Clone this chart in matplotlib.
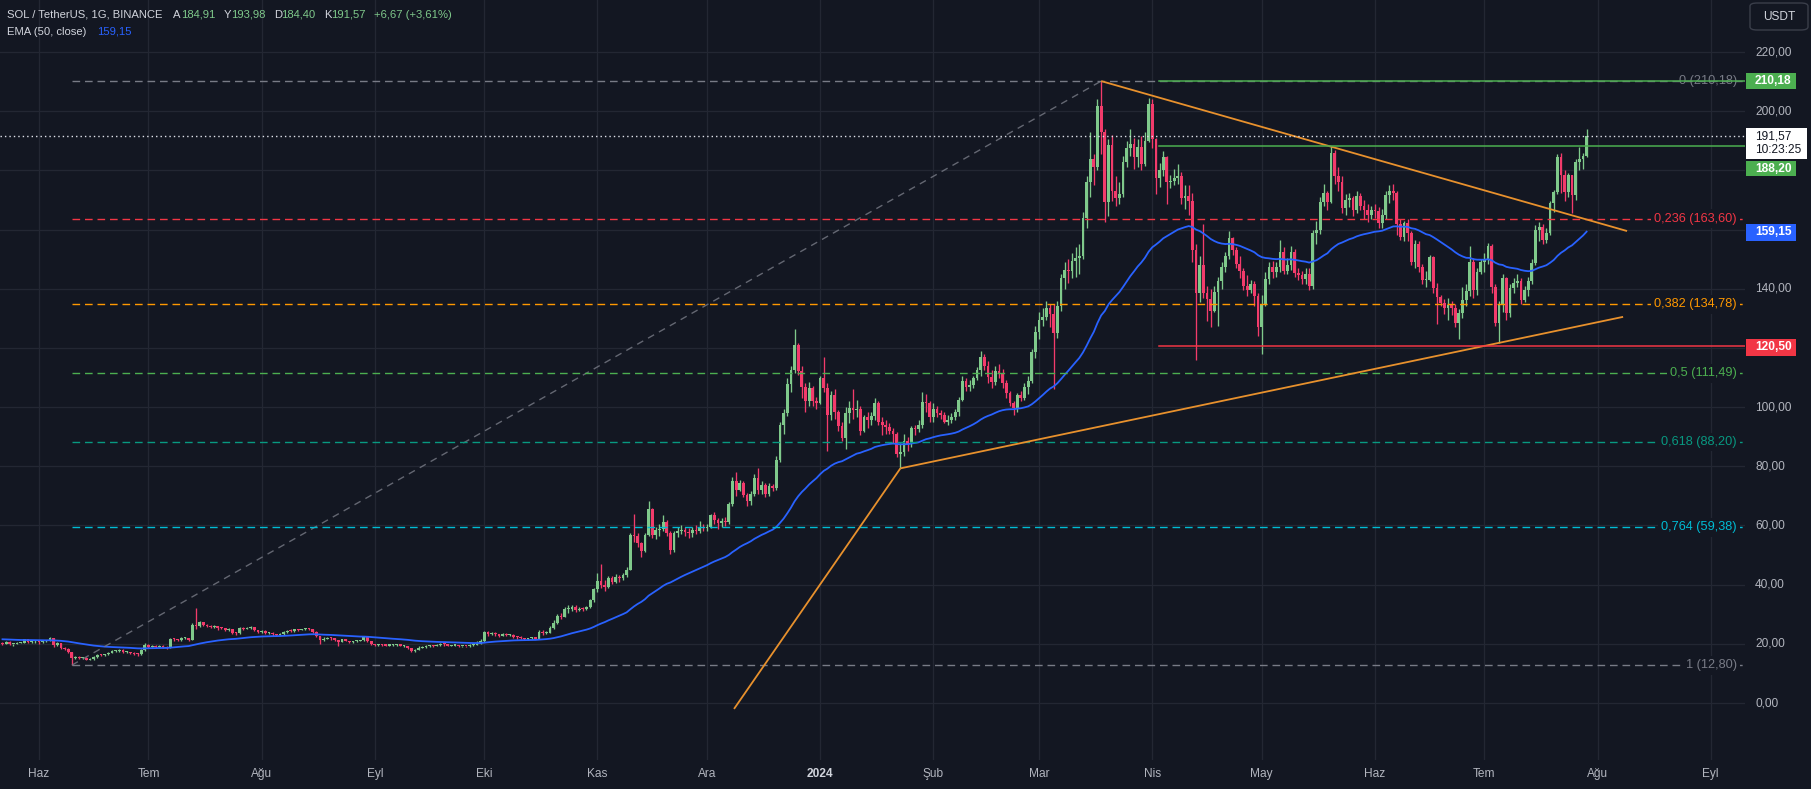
import numpy as np
import pandas as pd
import matplotlib
matplotlib.use('Agg')
import matplotlib.pyplot as plt
import matplotlib.dates as mdates
from matplotlib.patches import Rectangle, FancyBboxPatch

plt.rcParams['font.family'] = ['Liberation Sans', 'DejaVu Sans']

W, H = 1811, 789
BG = '#131722'
GRID = '#232733'
TXT = '#b2b5be'
UP = '#7fc98b'
DOWN = '#f23b6b'

# SOL/USDT daily, 2023-05-22 .. 2024-07-29 (open = previous close)
start_date = '2023-05-22'
first_open = 20.3
ema_seed = 21.6

close = [
    20.0, 20.7, 19.9, 19.9, 20.3, 20.4, 21.5, 20.6, 20.8, 20.8,  # May 23
    20.5, 20.8, 21.0, 22.0, 19.6, 20.2, 18.5, 18.3, 17.3, 15.2, 15.6, 15.1, 15.3, 14.6, 15.0,
    15.5, 16.3, 16.1, 16.4, 16.9, 17.6, 17.6, 17.9, 17.2, 17.4, 16.9, 16.5, 16.4, 17.9, 19.6,  # Jun
    19.0, 19.3, 19.0, 19.4, 18.9, 18.6, 21.6, 21.5, 21.3, 21.9, 22.0, 21.3, 26.5, 25.9, 27.3, 26.5,
    26.0, 25.6, 25.9, 25.3, 25.2, 24.6, 24.9, 23.6, 23.5, 25.3, 25.1, 25.2, 25.6, 24.6, 24.1,  # Jul
    24.4, 23.6, 23.7, 23.2, 23.0, 23.3, 24.1, 24.5, 24.3, 24.9, 24.7, 24.9, 25.3, 25.0, 24.0, 22.6,
    21.4, 21.7, 22.1, 21.9, 21.2, 20.6, 21.6, 21.0, 20.5, 20.9, 21.0, 21.2, 22.2, 21.0, 19.8,  # Aug
    19.5, 19.7, 19.6, 19.4, 19.6, 19.7, 19.9, 19.3, 19.3, 18.5, 17.5, 18.0, 18.6, 18.9, 19.3,
    19.3, 19.2, 19.5, 19.9, 19.8, 19.3, 19.4, 19.4, 19.1, 19.2, 19.1, 19.6, 19.7, 20.0, 20.8,  # Sep
    24.0, 23.4, 23.7, 23.2, 22.8, 23.3, 23.0, 23.1, 22.4, 22.3, 21.9, 21.6, 21.9, 22.2, 21.8, 24.0,
    23.5, 23.8, 25.3, 27.0, 29.4, 29.1, 31.8, 31.9, 32.3, 31.4, 31.9, 31.7, 32.3, 34.8, 38.5,  # Oct
    41.2, 39.9, 39.2, 42.2, 41.0, 42.6, 42.3, 43.1, 45.1, 56.8, 56.3, 54.0, 51.4, 56.8, 65.5,
    56.8, 58.5, 58.8, 61.2, 57.3, 51.7, 57.3, 58.0, 58.5, 57.9, 57.3, 58.3, 58.1, 59.6, 59.1,  # Nov
    59.6, 63.5, 62.0, 60.8, 61.5, 61.2, 67.4, 75.0, 72.0, 74.5, 70.4, 68.2, 70.6, 76.0, 72.0, 73.7,
    70.6, 73.5, 72.8, 82.1, 94.0, 97.9, 107.8, 112.5, 121.0, 112.3, 106.7, 101.9, 106.3, 101.9, 101.5,  # Dec
    109.7, 106.5, 97.5, 104.0, 98.5, 93.5, 89.5, 97.9, 99.6, 99.0, 99.4, 92.0, 96.5, 95.5, 97.0, 101.5,
    95.1, 94.0, 93.2, 92.0, 91.0, 84.0, 84.7, 88.5, 87.5, 92.9, 92.5, 94.0, 101.8, 101.4, 96.5,  # Jan 24
    99.5, 98.0, 97.3, 95.1, 95.8, 96.5, 98.2, 102.4, 108.9, 106.7, 107.5, 109.7, 112.6, 117.1, 113.8,
    110.3, 108.6, 112.3, 111.5, 108.0, 104.6, 101.5, 99.6, 104.1, 103.0, 106.7, 108.9, 118.7, 125.5,  # Feb
    129.5, 130.5, 133.5, 131.5, 125.0, 134.0, 143.5, 146.5, 146.0, 149.5, 150.5, 151.0, 163.8, 176.2, 183.9, 181.2,
    201.7, 193.0, 169.4, 188.5, 173.0, 170.5, 172.0, 183.0, 187.5, 189.0, 184.6, 188.0, 182.0, 190.0, 202.4,  # Mar
    190.5, 177.5, 180.0, 184.5, 176.0, 176.5, 177.5, 178.0, 170.5, 171.5, 169.5, 153.0, 138.5, 148.0, 138.5,
    136.5, 132.5, 139.0, 142.5, 147.5, 151.0, 157.0, 153.0, 148.5, 146.0, 141.0, 139.5, 141.5, 137.5, 127.0,  # Apr
    135.0, 143.4, 147.3, 145.5, 147.5, 152.5, 146.0, 148.0, 152.5, 145.3, 144.5, 143.4, 145.0, 141.0, 158.7, 160.0,
    169.4, 172.2, 169.4, 186.0, 178.0, 176.2, 167.2, 170.0, 170.5, 166.5, 171.5, 168.0, 166.5, 165.0, 166.5,  # May
    166.3, 162.3, 165.0, 171.6, 173.0, 172.3, 162.0, 157.6, 162.1, 158.7, 149.1, 155.0, 147.5, 142.9, 143.0,
    150.8, 140.1, 137.3, 135.3, 133.4, 134.5, 133.4, 128.4, 131.7, 136.3, 139.1, 149.1, 139.6, 145.8, 149.1,  # Jun
    150.0, 154.3, 140.7, 128.4, 134.6, 143.5, 131.8, 140.3, 141.9, 142.5, 136.3, 139.7, 142.5, 148.7, 159.9,
    161.0, 156.5, 158.7, 168.9, 172.8, 184.6, 178.4, 172.8, 178.4, 171.7, 182.9, 183.8, 184.91, 191.57,  # Jul
]

high = [
    20.5, 21.0, 20.8, 20.1, 20.6, 20.6, 21.7, 21.8, 21.0, 21.2,
    21.0, 21.1, 21.2, 22.3, 22.1, 20.6, 20.4, 18.8, 18.6, 17.4, 15.9, 15.9, 15.6, 15.5, 15.3,
    15.8, 16.6, 16.6, 16.7, 17.1, 17.8, 18.0, 18.2, 18.1, 17.6, 17.4, 17.1, 16.9, 18.1, 20.2,
    19.9, 19.6, 19.7, 19.7, 19.5, 19.1, 21.9, 21.9, 21.7, 22.2, 22.4, 21.9, 27.2, 32.1, 27.8, 27.5,
    26.7, 26.4, 26.3, 26.0, 25.6, 25.4, 25.2, 25.0, 24.0, 25.6, 25.7, 25.6, 26.0, 25.7, 24.8,
    24.7, 24.6, 24.1, 23.9, 23.4, 23.5, 24.3, 24.8, 24.9, 25.1, 25.0, 25.1, 25.5, 25.5, 25.1, 24.2,
    22.7, 22.2, 22.4, 22.3, 22.0, 21.3, 21.8, 21.8, 21.1, 21.0, 21.2, 21.4, 22.8, 22.3, 21.1,
    20.1, 19.9, 19.9, 19.8, 19.8, 20.0, 20.1, 20.0, 19.5, 19.4, 18.6, 18.4, 19.1, 19.2, 19.7,
    19.5, 19.5, 19.9, 20.2, 20.2, 19.9, 19.6, 19.6, 19.5, 19.4, 19.3, 19.8, 20.2, 20.8, 21.5,
    24.2, 24.3, 24.0, 23.9, 23.4, 23.6, 23.5, 23.4, 23.2, 22.7, 22.5, 22.0, 22.1, 22.4, 22.4, 24.6,
    24.6, 24.4, 26.0, 28.0, 30.0, 30.3, 32.3, 33.0, 33.2, 33.0, 32.6, 32.4, 32.8, 35.0, 39.0,
    44.0, 47.0, 41.5, 42.8, 42.8, 43.5, 43.3, 44.0, 45.8, 57.5, 63.9, 57.5, 54.5, 57.5, 68.3,
    66.0, 59.5, 60.5, 63.5, 62.0, 58.0, 58.2, 59.5, 60.0, 59.5, 59.0, 59.5, 60.2, 61.5, 60.5,
    60.5, 64.0, 64.5, 62.5, 62.5, 62.8, 68.0, 76.5, 78.0, 75.5, 75.0, 71.0, 71.5, 77.5, 79.5, 75.0,
    74.5, 74.5, 74.0, 83.5, 95.0, 99.5, 110.0, 114.0, 126.3, 121.5, 114.0, 108.0, 108.5, 107.0, 103.5,
    110.5, 117.0, 108.0, 105.5, 106.0, 99.0, 95.0, 100.0, 102.0, 106.0, 102.5, 100.5, 97.5, 98.5, 98.5, 103.0,
    102.0, 96.5, 95.5, 94.5, 93.0, 91.5, 88.0, 91.0, 90.0, 93.5, 94.0, 95.5, 105.0, 104.5, 102.0,
    101.5, 100.5, 99.0, 98.5, 97.5, 98.0, 99.5, 103.5, 110.5, 110.0, 109.0, 110.5, 113.5, 119.0, 118.0,
    115.5, 112.5, 114.0, 114.5, 113.0, 109.0, 105.5, 102.0, 104.8, 105.5, 108.0, 110.5, 119.5, 127.5,
    132.0, 133.5, 136.0, 135.0, 135.0, 136.0, 145.0, 149.0, 150.0, 152.0, 154.0, 155.0, 166.0, 178.0, 193.0, 185.5,
    204.0, 210.18, 194.0, 190.5, 192.0, 178.0, 176.0, 185.0, 190.0, 194.0, 191.0, 190.5, 191.5, 193.0, 204.5,
    204.0, 191.0, 182.5, 186.5, 185.0, 178.5, 180.5, 182.0, 179.5, 175.0, 175.0, 172.5, 155.0, 151.0, 162.0,
    141.0, 140.0, 141.0, 144.0, 149.0, 152.5, 159.5, 157.5, 154.0, 151.0, 147.0, 144.5, 143.0, 142.5, 138.5,
    138.0, 145.5, 149.0, 149.5, 149.0, 156.5, 154.0, 150.5, 154.5, 153.5, 147.0, 146.0, 147.0, 147.0, 160.0, 163.0,
    171.0, 175.5, 173.0, 188.2, 187.0, 181.0, 178.0, 172.0, 172.5, 171.5, 173.0, 172.5, 170.0, 168.5, 168.0,
    168.5, 167.5, 167.0, 173.0, 175.0, 175.5, 173.0, 163.5, 163.0, 163.5, 159.5, 156.5, 156.0, 148.5, 146.0,
    151.5, 151.0, 142.0, 138.0, 136.5, 137.0, 136.0, 135.0, 133.0, 140.7, 141.5, 154.5, 150.5, 147.0, 150.0,
    152.0, 155.5, 155.0, 141.5, 136.0, 145.0, 144.0, 141.5, 143.5, 145.0, 143.5, 141.0, 144.0, 150.0, 161.5,
    162.5, 162.0, 160.5, 169.5, 173.5, 185.5, 186.0, 180.0, 179.0, 178.5, 184.0, 188.0, 186.0, 193.98,
]

low = [
    19.5, 19.9, 19.5, 19.3, 19.8, 20.2, 20.3, 20.3, 20.4, 20.3,
    20.1, 20.4, 20.6, 20.8, 19.0, 19.2, 18.2, 17.9, 16.8, 12.8, 14.9, 14.8, 14.9, 14.4, 14.4,
    14.7, 15.3, 15.8, 16.0, 16.2, 16.8, 17.2, 17.3, 17.0, 16.8, 16.6, 16.3, 16.0, 16.2, 17.5,
    18.6, 18.8, 18.7, 18.9, 18.5, 18.2, 18.5, 21.0, 20.9, 21.1, 21.6, 21.0, 21.2, 25.0, 25.8, 26.1,
    25.6, 25.2, 25.3, 24.8, 24.9, 24.3, 24.4, 23.4, 23.1, 23.4, 24.8, 24.9, 25.0, 24.4, 23.8,
    23.8, 23.2, 23.2, 22.8, 22.7, 22.9, 23.1, 23.8, 23.9, 24.1, 24.4, 24.6, 24.7, 24.7, 23.8, 22.3,
    19.8, 21.0, 21.5, 21.4, 20.9, 19.2, 20.5, 20.8, 20.3, 20.4, 20.7, 20.8, 20.9, 20.7, 19.6,
    19.3, 19.3, 19.3, 19.2, 19.2, 19.4, 19.4, 19.1, 19.0, 18.2, 17.3, 17.4, 17.8, 18.5, 18.7,
    19.0, 19.0, 19.1, 19.3, 19.3, 19.1, 19.1, 19.2, 18.9, 18.8, 18.9, 19.0, 19.3, 19.5, 19.8,
    20.7, 22.7, 23.0, 22.7, 22.3, 22.6, 22.6, 22.5, 22.0, 21.8, 21.5, 21.2, 21.4, 21.7, 21.6, 21.7,
    23.1, 23.3, 23.7, 25.0, 26.8, 28.3, 29.0, 30.5, 31.0, 30.7, 31.2, 31.2, 31.4, 32.1, 34.3,
    37.5, 39.0, 38.0, 38.8, 40.2, 40.5, 41.0, 41.5, 42.5, 44.8, 54.5, 52.8, 49.5, 51.0, 56.5,
    55.8, 55.5, 56.5, 58.0, 56.5, 50.5, 51.2, 56.2, 57.0, 56.5, 55.8, 56.0, 57.0, 57.5, 58.0,
    58.0, 59.0, 60.5, 58.8, 59.5, 59.8, 60.5, 66.5, 70.0, 71.5, 69.5, 66.5, 66.8, 70.0, 70.5, 70.5,
    69.5, 70.0, 71.5, 72.0, 81.5, 91.0, 97.0, 105.0, 111.5, 111.0, 103.0, 98.5, 100.5, 100.5, 99.5,
    101.0, 105.0, 85.0, 95.5, 96.0, 92.0, 88.5, 86.0, 94.5, 96.0, 96.5, 90.5, 91.5, 93.0, 94.0, 95.5,
    94.0, 90.5, 91.0, 91.0, 88.0, 83.0, 79.3, 83.5, 85.0, 86.5, 90.5, 91.5, 93.0, 98.5, 95.0,
    95.0, 96.5, 96.0, 94.5, 94.0, 94.5, 95.5, 97.0, 102.0, 105.5, 105.5, 106.5, 109.0, 110.5, 112.5,
    108.0, 106.5, 107.5, 110.0, 106.5, 103.0, 100.5, 97.5, 98.5, 102.0, 102.5, 104.5, 108.0, 116.5,
    123.0, 127.5, 129.5, 127.0, 106.0, 123.5, 132.5, 140.0, 142.0, 143.5, 144.0, 145.0, 150.0, 160.5, 171.0, 175.0,
    180.0, 185.5, 162.5, 164.5, 169.5, 168.0, 168.5, 171.0, 181.0, 185.0, 180.5, 181.0, 180.0, 181.5, 189.5,
    187.5, 172.0, 174.5, 178.0, 168.5, 174.0, 175.0, 175.5, 168.5, 167.0, 165.0, 149.0, 116.0, 135.5, 137.0,
    129.0, 127.0, 132.0, 127.5, 140.0, 145.5, 150.0, 151.5, 147.0, 143.5, 139.5, 137.5, 138.5, 134.0, 124.0,
    118.0, 134.0, 141.5, 143.5, 144.0, 145.5, 145.0, 145.0, 146.5, 144.0, 143.0, 141.5, 141.5, 139.5, 140.0, 155.0,
    158.5, 168.0, 166.5, 169.0, 175.5, 173.0, 165.5, 165.0, 167.5, 164.5, 165.5, 166.5, 163.5, 162.5, 163.5,
    164.0, 160.5, 160.5, 163.5, 169.0, 170.0, 158.0, 156.5, 156.0, 156.0, 148.0, 147.0, 145.5, 141.5, 140.5,
    142.5, 138.5, 128.0, 134.0, 131.5, 129.5, 131.0, 127.0, 123.0, 130.0, 134.0, 137.5, 137.0, 138.0, 145.0,
    145.5, 148.5, 138.5, 127.5, 121.5, 132.0, 129.5, 130.5, 138.5, 140.5, 135.0, 135.5, 137.5, 141.5, 148.0,
    156.0, 155.0, 155.5, 158.0, 166.0, 172.0, 172.5, 169.5, 171.0, 165.5, 170.0, 180.0, 180.5, 184.40,
]

# fibonacci retracement (Jun 10 2023 low -> Mar 18 2024 high)
fib_start, fib_end = '2023-06-10', '2024-03-18'
fib_low, fib_high = 12.80, 210.18
fib_levels = [0, 0.236, 0.382, 0.5, 0.618, 0.764, 1]
fib_colors = ['#787b86', '#f23645', '#ff9800', '#4caf50', '#089981', '#00bcd4', '#787b86']

# trend lines (date, price) pairs
trend_lines = [
    (('2024-03-18', 210.18), ('2024-08-09 02:00', 159.5)),
    (('2024-01-23', 79.3), ('2024-08-08', 130.5)),
    (('2023-12-08 10:00', -2.0), ('2024-01-23', 79.3)),
]
hline_start = '2024-04-02 20:00'
hlines = [(210.18, '#4caf50'), (188.20, '#4caf50'), (120.50, '#f23645')]
last_price = 191.57

month_ticks = pd.date_range('2023-06-01', '2024-09-01', freq='MS')
month_labels = ['Haz', 'Tem', 'Ağu', 'Eyl', 'Eki', 'Kas', 'Ara', '2024',
                'Şub', 'Mar', 'Nis', 'May', 'Haz', 'Tem', 'Ağu', 'Eyl']
price_ticks = list(range(0, 221, 20))
hidden_ticks = [120, 160, 180]

# ---------------------------------------------------------------
dates = pd.date_range(start_date, periods=len(close), freq='D')
xd = mdates.date2num(dates)
c = np.array(close)
o = np.r_[first_open, c[:-1]]
hi = np.maximum(np.array(high), np.maximum(o, c))
lo = np.minimum(np.array(low), np.minimum(o, c))
up = c >= o
cols = np.where(up, UP, DOWN)

a = 2 / 51
ema = []
prev = ema_seed
for v in c:
    prev = a * v + (1 - a) * prev
    ema.append(prev)

fig = plt.figure(figsize=(W / 100, H / 100), dpi=100, facecolor=BG)
ax = fig.add_axes([0, 29 / H, 1745 / W, 760 / H])
ax.set_facecolor(BG)

base = mdates.date2num(pd.Timestamp('2023-06-01'))
ax.set_xlim(base - 39 / 3.65, base + (1745 - 39) / 3.65)
ax.set_ylim(-19.26, 237.58)

for s in ax.spines.values():
    s.set_visible(False)
ax.set_yticks(price_ticks)
ax.set_xticks(mdates.date2num(month_ticks))
ax.set_xticklabels(month_labels)
ax.grid(True, color=GRID, lw=0.9, zorder=0)
ax.set_axisbelow(True)
ax.tick_params(left=False, labelleft=False, bottom=False, length=0, pad=6,
               colors=TXT, labelsize=8.6)
for lab in ax.get_xticklabels():
    lab.set_color(TXT)
    if lab.get_text() == '2024':
        lab.set_fontweight('bold')
        lab.set_color('#d1d4dc')

# candles
ax.vlines(xd, lo, hi, colors=cols, lw=0.95, zorder=2)
body = np.maximum(np.abs(c - o), 0.4)
ax.bar(xd, body, bottom=np.minimum(o, c), width=0.76, color=cols, linewidth=0, zorder=3)

ax.plot(xd, ema, color='#2962ff', lw=1.3, zorder=4)

# fibonacci
fx0 = mdates.date2num(pd.Timestamp(fib_start))
fx1 = mdates.date2num(pd.Timestamp(fib_end))
ax.plot([fx0, fx1], [fib_low, fib_high], color='#787b86', lw=1, ls=(0, (5, 4)), alpha=0.8, zorder=5)
lab_x = base + (1737 - 39) / 3.65
for lvl, col in zip(fib_levels, fib_colors):
    p = fib_high - lvl * (fib_high - fib_low)
    ax.plot([fx0, ax.get_xlim()[1]], [p, p], color=col, lw=1, ls=(0, (5.5, 3.5)), zorder=5)
    txt = '%s (%s)' % (str(lvl).replace('.', ','), ('%.2f' % p).replace('.', ','))
    bb = None if lvl == 0 else dict(facecolor=BG, edgecolor='none', pad=2.5)
    ax.text(lab_x, p, txt, color=col, fontsize=9.2, ha='right', va='center', zorder=5.5, bbox=bb)

# trend lines
for (d0, p0), (d1, p1) in trend_lines:
    ax.plot(mdates.date2num([pd.Timestamp(d0), pd.Timestamp(d1)]), [p0, p1],
            color='#e8912d', lw=1.3, zorder=6, solid_capstyle='butt')

hx0 = mdates.date2num(pd.Timestamp(hline_start))
for p, col in hlines:
    ax.plot([hx0, ax.get_xlim()[1]], [p, p], color=col, lw=1.1, zorder=6)

ax.axhline(last_price, color='#e0e3eb', lw=1, ls=(0, (1, 2.2)), zorder=7)

# ---- right price scale ----
inv = fig.transFigure.inverted()


def price_y(p):
    return inv.transform(ax.transData.transform((0, p)))[1]


def px(xp):
    return xp / W


def py(yp):
    return 1 - yp / H


for p in price_ticks:
    if p in hidden_ticks:
        continue
    fig.text(px(1755), price_y(p), '%d,00' % p, color=TXT, fontsize=8.6, va='center', ha='left')


def tag(y_top, y_bot, text, face, fg='white', x1=1796, bold=True):
    fig.add_artist(Rectangle((px(1746), py(y_bot)), px(x1) - px(1746), py(y_top) - py(y_bot),
                             transform=fig.transFigure, facecolor=face, edgecolor='none'))
    fig.text(px(1755), py((y_top + y_bot) / 2), text, color=fg, fontsize=8.6,
             fontweight='bold' if bold else 'normal', va='center', ha='left')


tag(73.3, 89.3, '210,18', '#4caf50')
tag(161, 176, '188,20', '#4caf50')
tag(224.3, 240.5, '159,15', '#2962ff')
tag(339.3, 355.7, '120,50', '#f23645')
fig.add_artist(Rectangle((px(1746), py(159)), px(1807) - px(1746), py(128) - py(159),
                         transform=fig.transFigure, facecolor='white', edgecolor='none'))
fig.text(px(1755), py(136.5), '191,57', color='#131722', fontsize=8.6, va='center', ha='left')
fig.text(px(1755), py(150), '10:23:25', color='#131722', fontsize=8.6, va='center', ha='left')

# USDT box
fig.add_artist(FancyBboxPatch((px(1750), py(30)), px(1808) - px(1750), py(3) - py(30),
                              boxstyle='round,pad=0,rounding_size=0.004',
                              transform=fig.transFigure, facecolor=BG, edgecolor='#3a3e4a', lw=1))
fig.text(px(1779), py(17), 'USDT', color='#d1d4dc', fontsize=8.6, va='center', ha='center')

# ---- header ----
HDR = '#d1d4dc'
fs = 8.1
fig.text(px(7), py(14.5), 'SOL / TetherUS, 1G, BINANCE', color=HDR, fontsize=fs, va='center')
for xl, letter, xv, val in [(173, 'A', 181, '184,91'), (224, 'Y', 231, '193,98'),
                            (274, 'D', 281, '184,40'), (324, 'K', 331, '191,57')]:
    fig.text(px(xl), py(14.5), letter, color=HDR, fontsize=fs, va='center')
    fig.text(px(xv), py(14.5), val, color=UP, fontsize=fs, va='center')
fig.text(px(374), py(14.5), '+6,67 (+3,61%)', color=UP, fontsize=fs, va='center')
fig.text(px(7), py(32), 'EMA (50, close)', color=HDR, fontsize=fs, va='center')
fig.text(px(97), py(32), '159,15', color='#2962ff', fontsize=fs, va='center')

fig.savefig('out.png', dpi=100, facecolor=BG)
